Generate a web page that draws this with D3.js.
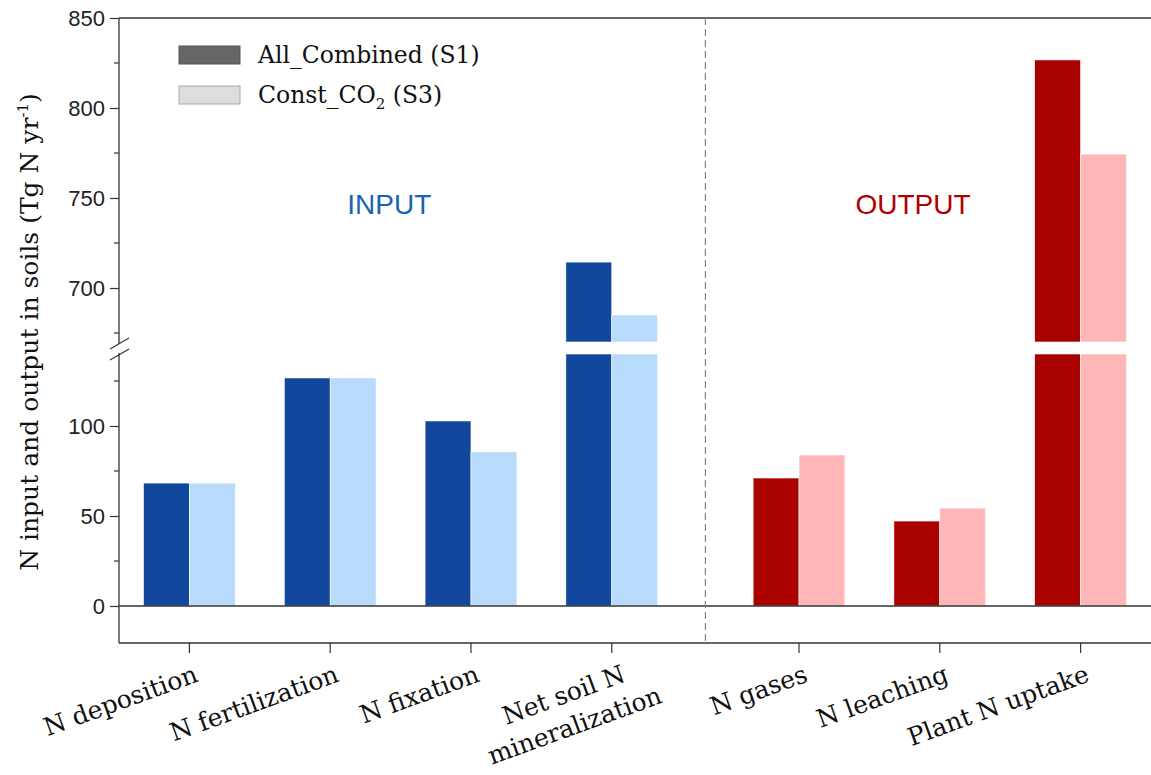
<!DOCTYPE html>
<html>
<head>
<meta charset="utf-8">
<script src="https://cdnjs.cloudflare.com/ajax/libs/d3/7.8.5/d3.min.js"></script>
<style>
  body { margin: 0; background: #fff; }
  svg { display: block; }
</style>
</head>
<body>
<div class="js-vis"></div>
<script>
const categories = [
  ['N deposition'],
  ['N fertilization'],
  ['N fixation'],
  ['Net soil N', 'mineralization'],
  ['N gases'],
  ['N leaching'],
  ['Plant N uptake']
]
const groups = ['input', 'input', 'input', 'input', 'output', 'output', 'output']
const s1Values = [68.3, 126.7, 102.8, 714.4, 71.1, 47.2, 826.7]
const s3Values = [68.3, 126.7, 85.6, 685.0, 83.9, 54.4, 774.4]
const lowTicks = [0, 50, 100]
const highTicks = [700, 750, 800, 850]
const lowMinor = [25, 75, 125]
const highMinor = [675, 725, 775, 825]

const W = 1151, H = 775
const pLeft = 119, pTop = 18, pBottom = 643, breakLow = 354, breakHigh = 342
const groupGap = 0.33, barW = 0.326

const colors = {
  input: ['#11479c', '#b8dbfc'],
  output: ['#a90000', '#ffb6b6']
}

const svg = d3.select('.js-vis').append('svg')
    .attr('width', W)
    .attr('height', H)
    .style('font-family', 'Liberation Sans, Arial, sans-serif')

const x = d3.scaleLinear().domain([0.5, 7.83]).range([pLeft, W])
const yLow = d3.scaleLinear().domain([0, 140]).range([606, breakLow])
const yHigh = d3.scaleLinear().domain([670, 850]).range([breakHigh, pTop])

function pos(i) { return i + 1 + (groups[i] == 'output' ? groupGap : 0) }

const data = categories.map((c, i) => ({ i: i, s1: s1Values[i], s3: s3Values[i], g: groups[i] }))

// bars, split across the broken axis
const bars = svg.append('g')
data.forEach(d => {
  [[d.s1, -barW, 0], [d.s3, 0, 1]].forEach(([v, off, k]) => {
    const x0 = x(pos(d.i) + off), bw = x(pos(d.i) + off + barW) - x0
    const fill = colors[d.g][k]
    const lowTop = yLow(Math.min(v, 140))
    bars.append('rect')
      .attr('x', x0).attr('width', bw)
      .attr('y', lowTop).attr('height', yLow(0) - lowTop)
      .attr('fill', fill).attr('stroke', '#fff').attr('stroke-width', 0.6)
    if (v > 670) {
      bars.append('rect')
        .attr('x', x0).attr('width', bw)
        .attr('y', yHigh(v)).attr('height', yHigh(670) - yHigh(v))
        .attr('fill', fill).attr('stroke', '#fff').attr('stroke-width', 0.6)
    }
  })
})

// zero line and frame
svg.append('line')
  .attr('x1', pLeft).attr('x2', W).attr('y1', yLow(0)).attr('y2', yLow(0))
  .attr('stroke', '#333').attr('stroke-width', 1.3)
svg.append('line')
  .attr('x1', pLeft).attr('x2', W).attr('y1', pTop).attr('y2', pTop)
  .attr('stroke', '#333').attr('stroke-width', 1.3)

// divider
const divX = x((pos(3) + pos(4)) / 2)
svg.append('line')
  .attr('x1', divX).attr('x2', divX).attr('y1', pTop).attr('y2', pBottom)
  .attr('stroke', '#888').attr('stroke-width', 1.2).attr('stroke-dasharray', '7,4')

// y axes
const axLow = svg.append('g').attr('transform', 'translate(' + pLeft + ',0)')
  .call(d3.axisLeft(yLow).tickValues(lowTicks).tickSize(9).tickPadding(5))
const axHigh = svg.append('g').attr('transform', 'translate(' + pLeft + ',0)')
  .call(d3.axisLeft(yHigh).tickValues(highTicks).tickSize(9).tickPadding(5))
;[axLow, axHigh].forEach(a => {
  a.select('.domain').remove()
  a.selectAll('text').style('font-size', '22px').attr('fill', '#222').style('font-family', 'Liberation Sans, Arial, sans-serif')
  a.selectAll('line').attr('stroke', '#333').attr('stroke-width', 1.2)
})
svg.append('g').selectAll('line')
  .data(lowMinor.map(v => yLow(v)).concat(highMinor.map(v => yHigh(v))))
  .enter().append('line')
  .attr('x1', pLeft - 5).attr('x2', pLeft).attr('y1', d => d).attr('y2', d => d)
  .attr('stroke', '#333').attr('stroke-width', 1.2)

svg.append('line')
  .attr('x1', pLeft).attr('x2', pLeft).attr('y1', pTop).attr('y2', breakHigh + 2)
  .attr('stroke', '#333').attr('stroke-width', 1.3)
svg.append('line')
  .attr('x1', pLeft).attr('x2', pLeft).attr('y1', breakLow - 1).attr('y2', pBottom)
  .attr('stroke', '#333').attr('stroke-width', 1.3)
;[[349, 338], [360, 349]].forEach(([a, b]) => {
  svg.append('line')
    .attr('x1', pLeft - 9).attr('y1', a).attr('x2', pLeft + 10).attr('y2', b)
    .attr('stroke', '#333').attr('stroke-width', 1.2)
})

// x axis
svg.append('line')
  .attr('x1', pLeft).attr('x2', W).attr('y1', pBottom).attr('y2', pBottom)
  .attr('stroke', '#333').attr('stroke-width', 1.3)
svg.append('g').selectAll('line')
  .data(data).enter().append('line')
  .attr('x1', d => x(pos(d.i))).attr('x2', d => x(pos(d.i)))
  .attr('y1', pBottom).attr('y2', pBottom + 10)
  .attr('stroke', '#333').attr('stroke-width', 1.2)

// rotated category labels: first line ends near the tick, extra lines centred on it
const labels = svg.append('g').selectAll('text')
  .data(data).enter().append('text')
  .attr('transform', d => 'translate(' + (x(pos(d.i)) + (categories[d.i].length > 1 ? 15 : 10)) + ',' + 681 + ') rotate(-20)')
  .attr('text-anchor', 'middle')
  .style('font-family', 'DejaVu Serif, serif')
  .style('font-size', '25px')
  .attr('fill', '#111')
labels.each(function(d) {
  const t = d3.select(this)
  const lines = categories[d.i]
  lines.forEach((s, k) => {
    t.append('tspan').text(s).attr('x', 0).attr('dy', k == 0 ? 0 : '1.3em')
  })
  const w1 = t.select('tspan').node().getComputedTextLength()
  t.selectAll('tspan').attr('x', -w1 / 2)
})

// group titles
svg.append('text')
  .attr('x', x(2.42)).attr('y', 214).attr('text-anchor', 'middle')
  .style('font-size', '28px').attr('fill', '#1862b8').text('INPUT')
svg.append('text')
  .attr('x', x(6.14)).attr('y', 214).attr('text-anchor', 'middle')
  .style('font-size', '28px').attr('fill', '#b00000').text('OUTPUT')

// y title
const yt = svg.append('text')
  .attr('transform', 'translate(38,' + 332 + ') rotate(-90)')
  .attr('text-anchor', 'middle')
  .style('font-family', 'DejaVu Serif, serif')
  .style('font-size', '25px')
  .attr('fill', '#111')
yt.append('tspan').text('N input and output in soils (Tg N yr')
yt.append('tspan').text('-1').attr('dy', -10).style('font-size', '15px')
yt.append('tspan').text(')').attr('dy', 10)

// legend
const legend = [
  { fill: '#666666', stroke: '#555', parts: [['All_Combined (S1)', 0]] },
  { fill: '#dddddd', stroke: '#aaa', parts: [['Const_CO', 0], ['2', 1], [' (S3)', 2]] }
]
legend.forEach((l, k) => {
  const gy = 46 + k * 40
  svg.append('rect')
    .attr('x', 179).attr('y', gy).attr('width', 61).attr('height', 18)
    .attr('fill', l.fill).attr('stroke', l.stroke).attr('stroke-width', 1)
  const t = svg.append('text')
    .attr('x', 258).attr('y', gy + 17)
    .style('font-family', 'DejaVu Serif, serif')
    .style('font-size', '23.5px')
    .attr('fill', '#111')
  l.parts.forEach(([s, m]) => {
    const sp = t.append('tspan').text(s)
    if (m == 1) sp.attr('dy', 6).style('font-size', '15px')
    if (m == 2) sp.attr('dy', -6)
  })
})
</script>
</body>
</html>
